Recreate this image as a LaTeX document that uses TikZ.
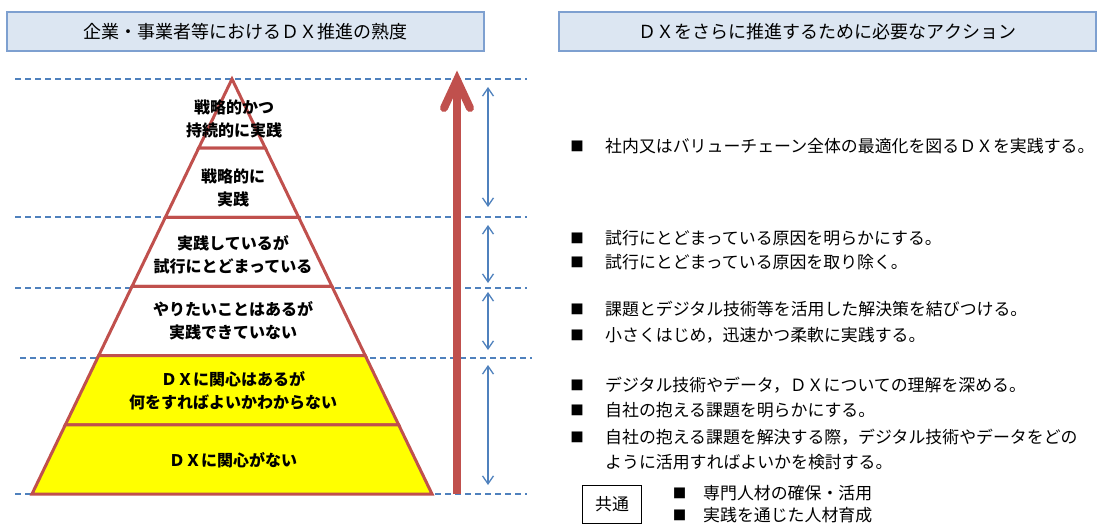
\documentclass[tikz,border=0pt]{standalone}
\usepackage{fontspec}
\setmainfont{Noto Sans CJK JP}
\usetikzlibrary{arrows.meta}
\definecolor{hdrfill}{RGB}{220,230,242}
\definecolor{hdrline}{RGB}{126,160,208}
\definecolor{guide}{RGB}{79,129,189}
\definecolor{pyr}{RGB}{192,80,77}
\definecolor{dxyellow}{RGB}{255,255,0}
\begin{document}
\begin{tikzpicture}[x=1pt,y=-1pt,
  hdr/.style={draw=hdrline,line width=1.2pt,fill=hdrfill,minimum height=39pt,inner sep=0pt,font=\fontsize{18}{20}\selectfont},
  guideline/.style={guide,line width=1.8pt,dash pattern=on 6pt off 4pt},
  pyrlayer/.style={draw=pyr,line width=3pt,line join=miter},
  lbl/.style={align=center,font=\bfseries\fontsize{16}{23}\selectfont,inner sep=0pt},
  spanarrow/.style={guide,line width=1.3pt,{Straight Barb[length=8pt,width=11pt]}-{Straight Barb[length=8pt,width=11pt]}},
  bul/.style={font=\fontsize{13.5}{13.5}\selectfont,inner sep=0pt},
  actitem/.style={anchor=west,font=\fontsize{16.9}{20}\selectfont,inner sep=0pt},
]
\useasboundingbox (0,0) rectangle (1097,526);

% headers
\node[hdr,minimum width=477pt] (hleft) at (245.5,31.5) {企業・事業者等におけるＤＸ推進の熟度};
\node[hdr,minimum width=537pt] (hright) at (827.5,31.5) {ＤＸをさらに推進するために必要なアクション};

% guide lines
\draw[guideline] (15,79) -- (527,79);
\draw[guideline] (15,217) -- (527,217);
\draw[guideline] (15,288) -- (527,288);
\draw[guideline] (20,358) -- (532,358);
\draw[guideline] (15,494) -- (527,494);

% pyramid
\draw[pyrlayer,fill=white] (232,79) -- (265.33,148.17) -- (198.67,148.17) -- cycle;
\draw[pyrlayer,fill=white] (198.67,148.17) -- (265.33,148.17) -- (298.67,217.33) -- (165.33,217.33) -- cycle;
\draw[pyrlayer,fill=white] (165.33,217.33) -- (298.67,217.33) -- (332,286.5) -- (132,286.5) -- cycle;
\draw[pyrlayer,fill=white] (132,286.5) -- (332,286.5) -- (365.33,355.67) -- (98.67,355.67) -- cycle;
\draw[pyrlayer,fill=dxyellow] (98.67,355.67) -- (365.33,355.67) -- (398.67,424.83) -- (65.33,424.83) -- cycle;
\draw[pyrlayer,fill=dxyellow] (65.33,424.83) -- (398.67,424.83) -- (432,494) -- (32,494) -- cycle;

\node[lbl] (l1) at (234,119) {戦略的かつ\\持続的に実践};
\node[lbl] (l2) at (233,187.5) {戦略的に\\実践};
\node[lbl] (l3) at (233,255) {実践しているが\\試行にとどまっている};
\node[lbl] (l4) at (233,320.5) {やりたいことはあるが\\実践できていない};
\node[lbl] (l5) at (233,391) {ＤＸに関心はあるが\\何をすればよいかわからない};
\node[lbl] (l6) at (233,460) {ＤＸに関心がない};

% big red arrow
\coordinate (arrbase) at (457,494);
\coordinate (arrtip) at (457,80);
\coordinate (armL) at (444,108);
\coordinate (armR) at (470,108);
\draw[pyr,line width=8pt] (arrbase) -- (arrtip);
\draw[pyr,line width=8pt,line cap=round,line join=miter] (armL) -- (arrtip) -- (armR);

% span arrows
\coordinate (s1a) at (488,87);  \coordinate (s1b) at (488,207);
\coordinate (s2a) at (488,225); \coordinate (s2b) at (488,283);
\coordinate (s3a) at (488,292); \coordinate (s3b) at (488,350);
\coordinate (s4a) at (488,365); \coordinate (s4b) at (488,485);
\draw[spanarrow] (s1a) -- (s1b);
\draw[spanarrow] (s2a) -- (s2b);
\draw[spanarrow] (s3a) -- (s3b);
\draw[spanarrow] (s4a) -- (s4b);

% actions
\foreach \y/\t [count=\i] in {146/社内又はバリューチェーン全体の最適化を図るＤＸを実践する。,
  238/試行にとどまっている原因を明らかにする。,
  262/試行にとどまっている原因を取り除く。,
  309/課題とデジタル技術等を活用した解決策を結びつける。,
  335/小さくはじめ，迅速かつ柔軟に実践する。,
  385/デジタル技術やデータ，ＤＸについての理解を深める。,
  410/自社の抱える課題を明らかにする。,
  437/自社の抱える課題を解決する際，デジタル技術やデータをどの}{
  \node[bul] (b\i) at (577,\y) {■};
  \node[actitem] (t\i) at (605,\y) {\t};
}
\node[actitem] (t9) at (605,462) {ように活用すればよいかを検討する。};

% common
\node[draw,line width=0.8pt,minimum width=59pt,minimum height=38pt,inner sep=0pt,font=\fontsize{16.9}{20}\selectfont] (common) at (612,504) {共通};
\node[bul] (cb1) at (679.5,493) {■};
\node[actitem] (ct1) at (703,493) {専門人材の確保・活用};
\node[bul] (cb2) at (679.5,515) {■};
\node[actitem] (ct2) at (703,515) {実践を通じた人材育成};
\end{tikzpicture}
\end{document}
